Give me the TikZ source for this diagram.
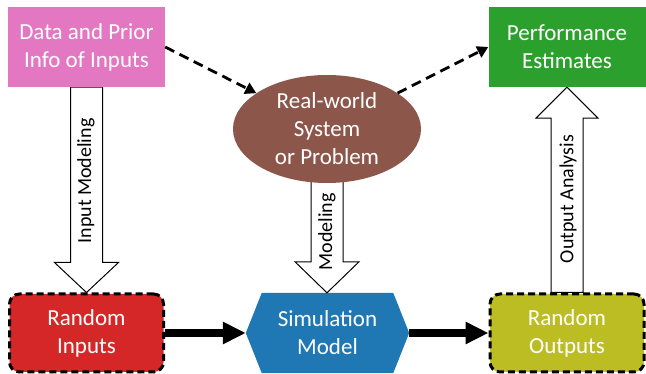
\documentclass[tikz,border=0pt]{standalone}
\usepackage{fontspec}
\setmainfont{Carlito}
\usetikzlibrary{arrows.meta,shapes.geometric,calc,backgrounds}
\definecolor{cpink}{HTML}{E377C2}
\definecolor{cgreen}{HTML}{2CA02C}
\definecolor{cbrown}{HTML}{8C564B}
\definecolor{cred}{HTML}{D62728}
\definecolor{cblue}{HTML}{1F77B4}
\definecolor{colive}{HTML}{BCBD22}
\begin{document}
\begin{tikzpicture}[x=1pt,y=-1pt,
  boxtext/.style={text=white, align=center, font=\fontsize{23}{28}\selectfont, inner sep=0pt},
  box/.style={boxtext, rectangle, minimum width=157pt, minimum height=80pt},
  dashbox/.style={box, draw=black, line width=3pt, dash pattern=on 7pt off 4pt, rounded corners=10pt, minimum width=154pt, minimum height=78pt},
  blockarrow/.style={draw=black, fill=white, line width=1pt, line join=miter},
  dasharrow/.style={line width=2.8pt, dash pattern=on 10pt off 6pt, -{Triangle[length=11pt,width=12pt]}},
  thickarrow/.style={line width=8pt, -{Triangle[length=23pt,width=21pt]}},
  arrowlabel/.style={rotate=90, font=\fontsize{20}{24}\selectfont, inner sep=0pt}]
\useasboundingbox (0,0) rectangle (646,374);

\node[box, fill=cpink] (pink) at (86.5,47) {Data and Prior\\Info of Inputs};
\node[box, fill=cgreen] (green) at (567,47) {Performance\\Estimates};
\node[ellipse, fill=cbrown, boxtext, minimum width=188pt, minimum height=108pt] (ell) at (327,129) {Real-world\\System\\or Problem};
\node[dashbox, fill=cred] (inputs) at (86.5,333) {Random\\Inputs};
\node[dashbox, fill=colive] (outputs) at (567,333) {Random\\Outputs};
\node[boxtext, rectangle, minimum width=163pt, minimum height=80pt] (sim) at (327.5,333) {Simulation\\Model};

\begin{scope}[on background layer]
  \fill[white] (0,0) rectangle (646,374);
  \fill[cblue] (sim.west) -- ([xshift=16pt]sim.north west) -- ([xshift=-16pt]sim.north east)
    -- (sim.east) -- ([xshift=-16pt]sim.south east) -- ([xshift=16pt]sim.south west) -- cycle;
  \draw[blockarrow] let \p1=(pink.south), \p2=(inputs.north) in
    (\x1-16pt,\y1) -- (\x1-16pt,\y2+30pt) -- (\x1-32pt,\y2+30pt) -- (\x1,\y2)
    -- (\x1+32pt,\y2+30pt) -- (\x1+16pt,\y2+30pt) -- (\x1+16pt,\y1) -- cycle;
  \draw[blockarrow] let \p1=([yshift=6pt]ell.south), \p2=(sim.north) in
    (\x1-16pt,\y1) -- (\x1-16pt,\y2+31pt) -- (\x1-32pt,\y2+31pt) -- (\x1,\y2)
    -- (\x1+32pt,\y2+31pt) -- (\x1+16pt,\y2+31pt) -- (\x1+16pt,\y1) -- cycle;
  \draw[blockarrow] let \p1=(outputs.north), \p2=(green.south) in
    (\x1-16pt,\y1) -- (\x1-16pt,\y2-31pt) -- (\x1-31pt,\y2-31pt) -- (\x1,\y2)
    -- (\x1+31pt,\y2-31pt) -- (\x1+16pt,\y2-31pt) -- (\x1+16pt,\y1) -- cycle;
\end{scope}

\node[arrowlabel] (lin) at (86,181) {Input Modeling};
\node[arrowlabel] (lmod) at (327,232) {Modeling};
\node[arrowlabel] (lout) at (568,199) {Output Analysis};

\draw[dasharrow] (pink.east) -- (ell);
\draw[dasharrow] (ell) -- (green.west);
\draw[thickarrow] (inputs.east) -- (sim.west);
\draw[thickarrow] (sim.east) -- (outputs.west);
\end{tikzpicture}
\end{document}
